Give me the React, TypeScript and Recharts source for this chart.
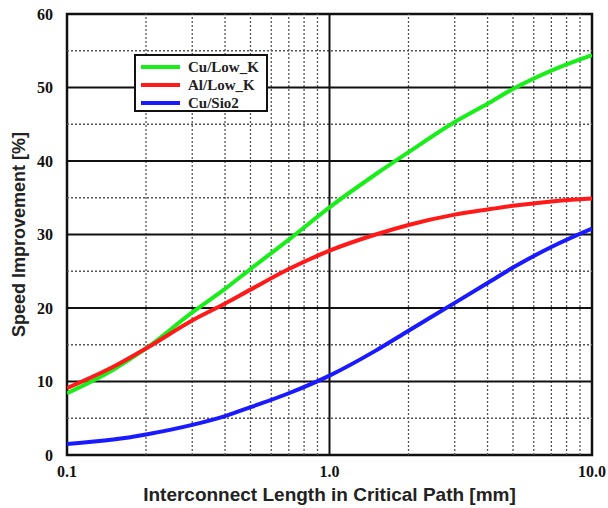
import React from 'react';
import {
  LineChart,
  Line,
  XAxis,
  YAxis,
  ReferenceLine,
  ReferenceArea,
  Legend,
  Label,
} from 'recharts';

const lengths = [0.1, 0.15, 0.2, 0.3, 0.4, 0.5, 0.7, 1, 1.5, 2, 3, 4, 5, 7, 10];
const cuLowK = [8.4, 11.6, 14.5, 19.4, 22.6, 25.3, 29.3, 33.7, 38.2, 41.2, 45.3, 47.8, 49.8, 52.3, 54.4];
const alLowK = [9.1, 12.0, 14.5, 18.3, 20.6, 22.5, 25.3, 27.8, 30.0, 31.3, 32.7, 33.4, 33.9, 34.5, 34.9];
const cuSio2 = [1.5, 2.1, 2.8, 4.1, 5.3, 6.5, 8.4, 10.8, 14.2, 16.9, 20.7, 23.4, 25.5, 28.3, 30.8];

const seriesNames = ['Cu/Low_K', 'Al/Low_K', 'Cu/Sio2'];

const xTicks = [0.1, 1, 10];
const yTicks = [0, 10, 20, 30, 40, 50, 60];
const xMinor = [0.2, 0.3, 0.4, 0.5, 0.6, 0.7, 0.8, 0.9, 2, 3, 4, 5, 6, 7, 8, 9];
const xMajor = [1];
const yMinor = [5, 15, 25, 35, 45, 55];
const yMajor = [10, 20, 30, 40, 50];

const data = lengths.map((len, i) => ({
  len,
  cu: cuLowK[i],
  al: alLowK[i],
  sio: cuSio2[i],
}));

const tickFont = {
  fontFamily: '"Liberation Serif", "Times New Roman", serif',
  fontWeight: 700,
  fontSize: 16,
  fill: '#111',
};

const xTitleFont = {
  fontFamily: '"Liberation Sans", Arial, sans-serif',
  fontWeight: 700,
  fontSize: 19,
  fill: '#222',
};

const yTitleFont = { ...xTitleFont, fontSize: 18 };

function LegendBox({ payload }: any) {
  const items = [...(payload || [])].sort(
    (a: any, b: any) => seriesNames.indexOf(a.value) - seriesNames.indexOf(b.value)
  );
  return (
    <div
      style={{
        border: '2px solid #111',
        background: '#fff',
        width: 134,
        height: 58,
        padding: '2px 0',
        boxSizing: 'border-box',
      }}
    >
      {items.map((p: any) => (
        <div key={p.value} style={{ display: 'flex', alignItems: 'center', height: 18 }}>
          <div style={{ width: 39, height: 4, background: p.color, marginLeft: 5, marginRight: 8 }} />
          <span
            style={{
              fontFamily: '"Liberation Serif", "Times New Roman", serif',
              fontWeight: 700,
              fontSize: 15,
              color: '#222',
              whiteSpace: 'nowrap',
            }}
          >
            {p.value}
          </span>
        </div>
      ))}
    </div>
  );
}

export default function App() {
  return (
    <div style={{ position: 'absolute', left: 0, top: 0, width: 608, height: 508, background: '#fff' }}>
      <LineChart width={608} height={508} data={data} margin={{ top: 14, right: 16, left: 7, bottom: 23 }}>
        <XAxis
          dataKey="len"
          type="number"
          scale="log"
          domain={[0.1, 10]}
          ticks={xTicks}
          allowDataOverflow
          tickFormatter={(v: number) => v.toFixed(1)}
          axisLine={false}
          tickLine={false}
          tickSize={0}
          tickMargin={11}
          tick={tickFont}
          height={30}
        >
          <Label
            value="Interconnect Length in Critical Path [mm]"
            position="center"
            dy={24}
            style={xTitleFont}
          />
        </XAxis>
        <YAxis
          type="number"
          domain={[0, 60]}
          ticks={yTicks}
          axisLine={false}
          tickLine={false}
          tickSize={0}
          tickMargin={14}
          tick={tickFont}
          width={60}
        >
          <Label
            value="Speed Improvement [%]"
            position="center"
            angle={-90}
            dx={-18}
            style={yTitleFont}
          />
        </YAxis>
        {xMinor.map((v) => (
          <ReferenceLine key={'xm' + v} x={v} stroke="#555" strokeWidth={1.3} strokeDasharray="2 2" />
        ))}
        {yMinor.map((v) => (
          <ReferenceLine key={'ym' + v} y={v} stroke="#555" strokeWidth={1.3} strokeDasharray="2 2" />
        ))}
        {xMajor.map((v) => (
          <ReferenceLine key={'xM' + v} x={v} stroke="#111" strokeWidth={2} />
        ))}
        {yMajor.map((v) => (
          <ReferenceLine key={'yM' + v} y={v} stroke="#111" strokeWidth={2} />
        ))}
        <ReferenceArea x1={0.1} x2={10} y1={0} y2={60} stroke="#111" strokeWidth={2.5} fill="none" fillOpacity={0} />
        <Legend
          layout="vertical"
          verticalAlign="middle"
          align="center"
          content={<LegendBox />}
          wrapperStyle={{ left: 134, top: 54, width: 134, height: 58 }}
        />
        <Line
          dataKey="cu"
          name="Cu/Low_K"
          type="monotone"
          stroke="#1aee1a"
          strokeWidth={4}
          dot={false}
          isAnimationActive={false}
        />
        <Line
          dataKey="al"
          name="Al/Low_K"
          type="monotone"
          stroke="#ff1a1a"
          strokeWidth={4}
          dot={false}
          isAnimationActive={false}
        />
        <Line
          dataKey="sio"
          name="Cu/Sio2"
          type="monotone"
          stroke="#1a1aff"
          strokeWidth={4}
          dot={false}
          isAnimationActive={false}
        />
      </LineChart>
    </div>
  );
}
